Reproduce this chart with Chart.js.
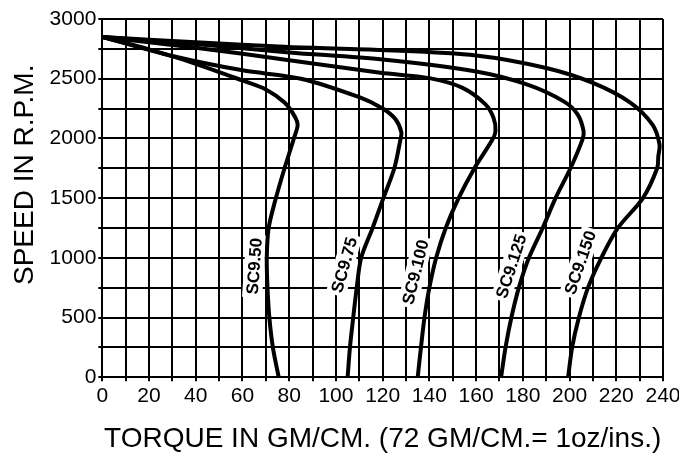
<!DOCTYPE html>
<html>
<head>
<meta charset="utf-8">
<script src="https://cdn.jsdelivr.net/npm/chart.js@4"></script>
<style>
  body { margin: 0; background: #fff; }
  #wrap { width: 679px; height: 459px; }
</style>
</head>
<body>
<div id="wrap"><canvas id="myChart" width="679" height="459"></canvas></div>
<script>
'use strict';

// Curve data (torque in gm/cm, speed in rpm)
const curveNames = ['SC9.50', 'SC9.75', 'SC9.100', 'SC9.125', 'SC9.150'];

const sc50Torque = [0, 20, 40, 60, 70, 78, 82.5, 83.6, 82, 78, 74.3, 71.2, 70.4, 70.7, 71.5, 73, 75.5];
const sc50Speed  = [2850, 2745, 2625, 2485, 2410, 2300, 2180, 2110, 2000, 1750, 1500, 1250, 1000, 750, 500, 250, 0];

const sc75Torque = [0, 30, 60, 85, 110, 120, 125.5, 128, 127.5, 125, 120.3, 115.7, 110.8, 108.9, 107.4, 106, 105];
const sc75Speed  = [2850, 2690, 2570, 2500, 2345, 2250, 2160, 2050, 1980, 1750, 1500, 1250, 1000, 750, 500, 250, 0];

const sc100Torque = [0, 40, 80, 119, 140, 154, 164, 167.5, 168.3, 167, 159.3, 152.5, 147, 142.9, 140, 137.9, 136.4, 135];
const sc100Speed  = [2850, 2760, 2655, 2550, 2505, 2425, 2285, 2170, 2060, 1990, 1750, 1500, 1250, 1000, 750, 500, 250, 0];

const sc125Torque = [0, 40, 80, 120, 160, 182, 197.5, 203.5, 206, 205.5, 200.4, 194, 188.5, 182.6, 178.3, 175.1, 172.6, 170.7];
const sc125Speed  = [2850, 2790, 2720, 2660, 2560, 2450, 2310, 2200, 2060, 1990, 1750, 1500, 1250, 1000, 750, 500, 250, 0];

const sc150Torque = [0, 40, 80, 120, 160, 190, 210, 226, 235.5, 238.5, 238, 237.5, 231.4, 220.7, 213.6, 207.9, 204, 201.1, 199.4];
const sc150Speed  = [2850, 2805, 2765, 2740, 2695, 2590, 2465, 2300, 2115, 1950, 1850, 1750, 1500, 1250, 1000, 750, 500, 250, 0];

// where each curve name sits (data coords) and its tilt in degrees
const labelTorque = [65, 103.5, 134, 175, 204.5];
const labelSpeed  = [930, 940, 880, 930, 960];
const labelAngle  = [-86, -74, -76, -72, -71];

const torqueSets = [sc50Torque, sc75Torque, sc100Torque, sc125Torque, sc150Torque];
const speedSets = [sc50Speed, sc75Speed, sc100Speed, sc125Speed, sc150Speed];

const toPoints = (xs, ys) => xs.map((x, i) => ({ x: x, y: ys[i] }));

const datasets = curveNames.map((name, i) => ({
  label: name,
  data: toPoints(torqueSets[i], speedSets[i]),
  showLine: true,
  borderColor: '#000',
  borderWidth: 4,
  pointRadius: 0,
  tension: 0.3,
  fill: false
}));

const tickFont = { family: "'Liberation Sans', Arial, sans-serif", size: 21 };
const titleFont = { family: "'Liberation Sans', Arial, sans-serif", size: 28 };

// curve names, rotated, on a white patch that breaks the grid
const curveLabels = {
  id: 'curveLabels',
  beforeDatasetsDraw(chart) {
    const ctx = chart.ctx;
    const xs = chart.scales.x;
    const ys = chart.scales.y;
    ctx.save();
    ctx.font = "bold 17px 'Liberation Sans', Arial, sans-serif";
    ctx.textAlign = 'center';
    ctx.textBaseline = 'middle';
    for (let i = 0; i < curveNames.length; i++) {
      const px = xs.getPixelForValue(labelTorque[i]);
      const py = ys.getPixelForValue(labelSpeed[i]);
      const w = ctx.measureText(curveNames[i]).width;
      ctx.save();
      ctx.translate(px, py);
      ctx.rotate(labelAngle[i] * Math.PI / 180);
      ctx.fillStyle = '#fff';
      ctx.fillRect(-w / 2 - 3, -10, w + 6, 20);
      ctx.fillStyle = '#000';
      ctx.fillText(curveNames[i], 0, 1);
      ctx.restore();
    }
    ctx.restore();
  }
};

const config = {
  type: 'scatter',
  data: { datasets: datasets },
  options: {
    responsive: false,
    animation: false,
    layout: { padding: { top: 19, right: 0, left: 4, bottom: 2 } },
    plugins: {
      legend: { display: false },
      tooltip: { enabled: false }
    },
    scales: {
      x: {
        type: 'linear',
        min: 0,
        max: 240,
        // let the last tick label run to the canvas edge like the original
        afterFit: (scale) => { scale.paddingRight = 16; },
        ticks: {
          stepSize: 10,
          color: '#000',
          font: tickFont,
          maxRotation: 0,
          autoSkip: false,
          padding: 2,
          callback: (v) => (v % 20 === 0 ? v : '')
        },
        grid: { color: '#000', lineWidth: 2, tickLength: 4 },
        border: { color: '#000', width: 2 },
        title: {
          display: true,
          text: 'TORQUE IN GM/CM. (72 GM/CM.= 1oz/ins.)',
          color: '#000',
          font: titleFont,
          padding: { top: 12, bottom: 1 }
        }
      },
      y: {
        type: 'linear',
        min: 0,
        max: 3000,
        ticks: {
          stepSize: 250,
          color: '#000',
          font: tickFont,
          autoSkip: false,
          padding: 2,
          callback: (v) => (v % 500 === 0 ? v : '')
        },
        grid: { color: '#000', lineWidth: 2, tickLength: 4 },
        border: { color: '#000', width: 2 },
        title: {
          display: true,
          // leading blanks nudge the title up a little, as in the original
          text: '\u00a0\u00a0\u00a0\u00a0\u00a0\u00a0SPEED IN R.P.M.',
          color: '#000',
          font: titleFont,
          padding: { top: 4, bottom: 6 }
        }
      }
    }
  },
  plugins: [curveLabels]
};

const myChart = new Chart(document.getElementById('myChart'), config);
</script>
</body>
</html>
